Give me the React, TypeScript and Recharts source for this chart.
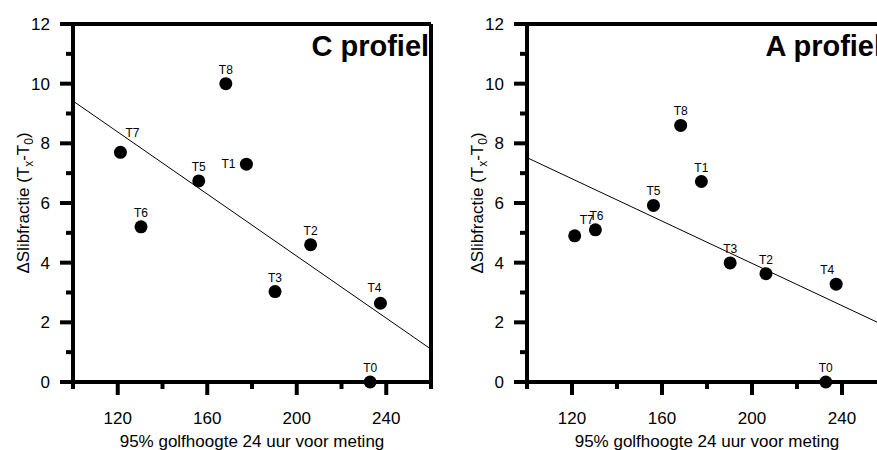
import { ScatterChart, Scatter, XAxis, YAxis, ReferenceLine } from 'recharts';

// meetmomenten en bijbehorende golfhoogte (x)
const tijdstippen = ['T0', 'T1', 'T2', 'T3', 'T4', 'T5', 'T6', 'T7', 'T8'];
const golfhoogte = [232.8, 177.5, 206.2, 190.3, 237.4, 156.2, 130.4, 121.2, 168.3];

// ΔSlibfractie per profiel
const slibC = [0, 7.3, 4.6, 3.03, 2.64, 6.74, 5.2, 7.7, 10.0];
const slibA = [0, 6.72, 3.63, 3.99, 3.28, 5.92, 5.1, 4.9, 8.6];

// trendlijn (begin- en eindpunt)
const trendX = [100, 260];
const trendC = [9.42, 1.1];
const trendA = [7.52, 1.85];

const xTicks = [100, 120, 140, 160, 180, 200, 220, 240, 260];
const yTicks = [0, 1, 2, 3, 4, 5, 6, 7, 8, 9, 10, 11, 12];

// verschuiving van de puntlabels (dx, dy t.o.v. het punt)
const nudgeC: Record<string, [number, number]> = { T7: [12, -15], T1: [-18, 4], T4: [-6, -11] };
const nudgeA: Record<string, [number, number]> = { T7: [12, -12], T6: [1, -10], T4: [-9, -10] };

const FONT = '"Liberation Sans", Arial, sans-serif';

const XTick = (props: any) => {
  const { x, y, payload } = props;
  const major = payload.value % 40 === 0;
  return (
    <g>
      <line x1={x} y1={y} x2={x} y2={y + (major ? 13 : 7)} stroke="#000" strokeWidth={4} />
      {major && payload.value < 260 && (
        <text x={x} y={y + 41.5} textAnchor="middle" fontSize={17} fontFamily={FONT} fill="#000">
          {payload.value}
        </text>
      )}
    </g>
  );
};

const YTick = (props: any) => {
  const { x, y, payload } = props;
  const major = payload.value % 2 === 0;
  return (
    <g>
      <line x1={x - (major ? 13 : 7)} y1={y} x2={x} y2={y} stroke="#000" strokeWidth={4} />
      {major && (
        <text x={x - 23} y={y + 6} textAnchor="end" fontSize={17} fontFamily={FONT} fill="#000">
          {payload.value}
        </text>
      )}
    </g>
  );
};

const makeShape = (nudge: Record<string, [number, number]>) => (props: any) => {
  const { cx, cy, payload } = props;
  const [dx, dy] = nudge[payload.name] ?? [0, -10];
  return (
    <g>
      <circle cx={cx} cy={cy} r={6.5} fill="#000" />
      <text x={cx + dx} y={cy + dy} textAnchor="middle" fontSize={12} fontFamily={FONT} fill="#000">
        {payload.name}
      </text>
    </g>
  );
};

type PaneelProps = {
  left: number;
  plotWidth: number;
  values: number[];
  trend: number[];
  nudge: Record<string, [number, number]>;
  title: string;
};

const Paneel = ({ left, plotWidth, values, trend, nudge, title }: PaneelProps) => {
  const data = tijdstippen.map((name, i) => ({ name, x: golfhoogte[i], y: values[i] }));
  const axisW = 73;
  const width = axisW + plotWidth + 6;
  return (
    <div style={{ position: 'absolute', left, top: 0 }}>
      <ScatterChart width={width} height={450} margin={{ top: 24, right: 6, bottom: 0, left: 0 }}>
        <XAxis
          type="number"
          dataKey="x"
          domain={[100, 260]}
          ticks={xTicks}
          interval={0}
          height={68}
          tickSize={0}
          tickMargin={0}
          tickLine={false}
          tick={XTick}
          axisLine={{ stroke: '#000', strokeWidth: 4 }}
        />
        <YAxis
          type="number"
          dataKey="y"
          domain={[0, 12]}
          ticks={yTicks}
          interval={0}
          width={axisW}
          tickSize={0}
          tickMargin={0}
          tickLine={false}
          tick={YTick}
          axisLine={{ stroke: '#000', strokeWidth: 4 }}
        />
        <ReferenceLine y={12} stroke="#000" strokeWidth={4} />
        <ReferenceLine x={260} stroke="#000" strokeWidth={4} />
        <ReferenceLine
          segment={[
            { x: trendX[0], y: trend[0] },
            { x: trendX[1], y: trend[1] },
          ]}
          stroke="#000"
          strokeWidth={1}
        />
        <Scatter data={data} shape={makeShape(nudge)} isAnimationActive={false} />
        <text x={axisW + 238.5} y={56} fontSize={29} fontWeight="bold" fontFamily={FONT} fill="#000">
          {title}
        </text>
        <text
          x={axisW + plotWidth / 2}
          y={446.5}
          textAnchor="middle"
          fontSize={17}
          fontFamily={FONT}
          fill="#000"
        >
          95% golfhoogte 24 uur voor meting
        </text>
        <text transform="translate(29,203) rotate(-90)" textAnchor="middle" fontSize={17} fontFamily={FONT} fill="#000">
          ΔSlibfractie (T
          <tspan dy={4} fontSize={12}>x</tspan>
          <tspan dy={-4}>-T</tspan>
          <tspan dy={4} fontSize={12}>0</tspan>
          <tspan dy={-4}>)</tspan>
        </text>
      </ScatterChart>
    </div>
  );
}

export default function App() {
  return (
    <div
      style={{
        position: 'absolute',
        left: 0,
        top: 0,
        width: 877,
        height: 450,
        overflow: 'hidden',
        background: '#fff',
      }}
    >
      <Paneel left={0} plotWidth={358} values={slibC} trend={trendC} nudge={nudgeC} title="C profiel" />
      <Paneel left={454} plotWidth={360} values={slibA} trend={trendA} nudge={nudgeA} title="A profiel" />
    </div>
  );
}
